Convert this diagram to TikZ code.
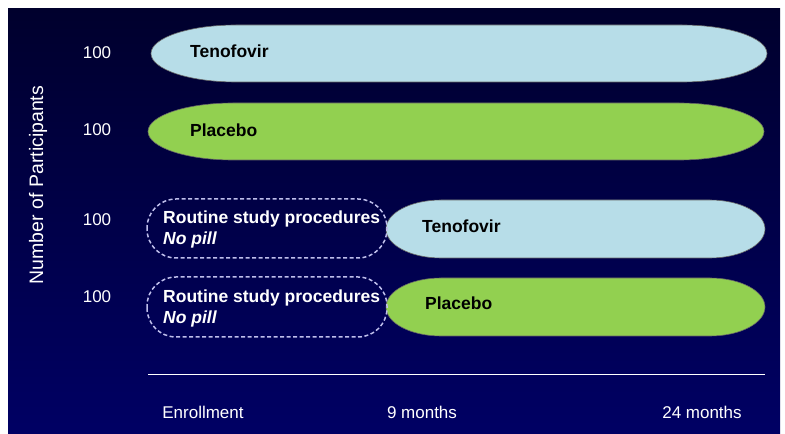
\documentclass[tikz,border=0pt]{standalone}
\usepackage{fontspec}
\setmainfont{Liberation Sans}
\definecolor{bgtop}{RGB}{0,0,45}
\definecolor{bgbot}{RGB}{0,0,100}
\definecolor{tenoblue}{RGB}{183,221,232}
\definecolor{placgreen}{RGB}{146,208,80}
\definecolor{dashcol}{RGB}{190,190,235}
\begin{document}
\begin{tikzpicture}[x=1pt,y=1pt,
  pillbar/.style={draw=black!60,line width=0.6pt},
  dashbox/.style={draw=dashcol,line width=1.5pt,dash pattern=on 4pt off 2.5pt,rounded corners=29pt},
  barlabel/.style={font=\fontsize{17.5}{21}\selectfont\bfseries,text=black,anchor=west,inner sep=0pt},
  countlabel/.style={font=\fontsize{17}{20}\selectfont,text=white,inner sep=0pt},
  timelabel/.style={font=\fontsize{17}{20}\selectfont,text=white,inner sep=0pt},
  routinelabel/.style={font=\fontsize{17.5}{21}\selectfont\bfseries,text=white,anchor=west,align=left,inner sep=0pt}]
\useasboundingbox (0,0) rectangle (785,434);
\fill[white] (0,0) rectangle (785,434);
\shade[top color=bgtop,bottom color=bgbot] (8,0) rectangle (780,425);
% bars
\path[pillbar,fill=tenoblue] (236,409) -- (682,409) arc[start angle=90,end angle=-90,x radius=85,y radius=28.5] -- (236,352) arc[start angle=270,end angle=90,x radius=85,y radius=28.5] -- cycle;
\path[pillbar,fill=placgreen] (233,331) -- (679,331) arc[start angle=90,end angle=-90,x radius=85,y radius=28.5] -- (233,274) arc[start angle=270,end angle=90,x radius=85,y radius=28.5] -- cycle;
\path[pillbar,fill=tenoblue] (441,234) -- (710,234) arc[start angle=90,end angle=-90,x radius=55,y radius=29] -- (441,176) arc[start angle=270,end angle=90,x radius=55,y radius=29] -- cycle;
\path[pillbar,fill=placgreen] (441,156) -- (710,156) arc[start angle=90,end angle=-90,x radius=55,y radius=29] -- (441,98) arc[start angle=270,end angle=90,x radius=55,y radius=29] -- cycle;
% dashed boxes
\draw[dashbox] (147,176) rectangle (387,235);
\draw[dashbox] (147,97) rectangle (387,157);
% axis line
\coordinate (axL) at (148,59);
\coordinate (axR) at (765,59);
\draw[white,line width=1pt] (axL) -- (axR);
% labels in bars
\node[barlabel] (teno1) at (190,383) {Tenofovir};
\node[barlabel] (plac1) at (190,304) {Placebo};
\node[barlabel] (teno2) at (422,208) {Tenofovir};
\node[barlabel] (plac2) at (425,131) {Placebo};
\node[routinelabel] (rout1) at (163,204.5) {Routine study procedures\\\itshape No pill};
\node[routinelabel] (rout2) at (163,126) {Routine study procedures\\\itshape No pill};
% counts
\node[countlabel] (n1) at (97,381) {100};
\node[countlabel] (n2) at (97,304) {100};
\node[countlabel] (n3) at (97,214) {100};
\node[countlabel] (n4) at (97,137) {100};
\node[font=\fontsize{19.5}{22}\selectfont,text=white,rotate=90,inner sep=0pt] (ylab) at (38,249) {Number of Participants};
% time labels
\node[timelabel] (t0) at (203,22) {Enrollment};
\node[timelabel] (t9) at (422,22) {9 months};
\node[timelabel] (t24) at (702,22) {24 months};
\end{tikzpicture}
\end{document}
